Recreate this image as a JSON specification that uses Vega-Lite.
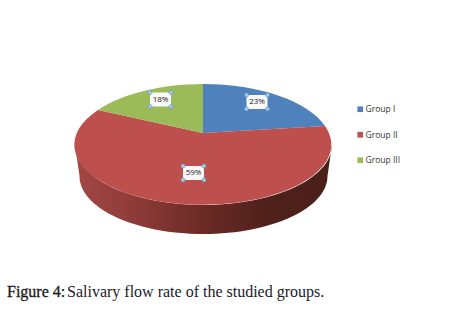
{"$schema":"https://vega.github.io/schema/vega-lite/v6.json","width":457,"height":329,"padding":0,"autosize":"none","background":"white","config":{"view":{"stroke":null}},
"datasets":{"groups":[{"group":"Group I","pct":23,"label":"23%"},{"group":"Group II","pct":59,"label":"59%"},{"group":"Group III","pct":18,"label":"18%"}]},
"data":{"name":"groups"},
"layer":[
{"mark":{"type":"point","filled":true,"opacity":1,"size":4,"shape":"square","x":203,"y":133},"encoding":{
"color":{"field":"group","type":"nominal","scale":{"domain":["Group I","Group II","Group III"],"range":["#4f81bd","#bd4f4c","#9bbb59"]},"legend":{"title":null,"orient":"none","legendX":356,"legendY":105,"symbolType":"square","symbolSize":32,"symbolOpacity":1,"rowPadding":16.5,"labelFont":"Open Sans","labelFontSize":8.5,"labelColor":"#333333","labelOffset":1}}}},
{"transform":[{"filter":"datum.group==='Group II'"}],"mark":{"type":"point","filled":true,"opacity":1,"size":4,"shape":"M-128,12A128.5,60 0 0 0 129,12L124.5,43A124,58 0 0 1 -123.5,43Z","x":203,"y":133,"fill":{"gradient":"linear","x1":0,"x2":1,"y1":0,"y2":0,"stops":[{"offset":0,"color":"#a34745"},{"offset":0.25,"color":"#8c3a37"},{"offset":0.5,"color":"#6b2a26"},{"offset":0.75,"color":"#50211b"},{"offset":1,"color":"#4a1f19"}]}},"encoding":{}},
{"transform":[{"filter":"datum.group==='Group I'"}],"mark":{"type":"point","filled":true,"opacity":1,"size":4,"x":203,"y":133,"shape":"M0,0L0,-49A128.5,60 0 0 1 122,-7Z"},"encoding":{"color":{"field":"group","type":"nominal","legend":null}}},
{"transform":[{"filter":"datum.group==='Group II'"}],"mark":{"type":"point","filled":true,"opacity":1,"size":4,"x":203,"y":133,"shape":"M0,0L122,-7A128.5,60 0 1 1 -105,-23Z"},"encoding":{"color":{"field":"group","type":"nominal","legend":null}}},
{"transform":[{"filter":"datum.group==='Group III'"}],"mark":{"type":"point","filled":true,"opacity":1,"size":4,"x":203,"y":133,"shape":"M0,0L-105,-23A128.5,60 0 0 1 0,-49Z"},"encoding":{"color":{"field":"group","type":"nominal","legend":null}}},
{"transform":[{"filter":"datum.group==='Group I'"}],"layer":[
{"mark":{"type":"point","filled":true,"opacity":1,"size":4,"x":257,"y":102,"fill":"#f8f8f8","shape":"M-10.5,-7H10.5V7H-10.5Z"}},
{"mark":{"type":"point","filled":true,"opacity":1,"size":4,"x":257,"y":102,"fill":"#a9cbe6","stroke":"#5f93bd","strokeWidth":0.7,"shape":"M-8.5,-7A2,2 0 1 1 -12.5,-7A2,2 0 1 1 -8.5,-7ZM12.5,-7A2,2 0 1 1 8.5,-7A2,2 0 1 1 12.5,-7ZM-8.5,7A2,2 0 1 1 -12.5,7A2,2 0 1 1 -8.5,7ZM12.5,7A2,2 0 1 1 8.5,7A2,2 0 1 1 12.5,7Z"}},
{"mark":{"type":"text","x":257,"y":102,"font":"Open Sans","fontSize":8,"fill":"#222222","align":"center","baseline":"middle"},"encoding":{"text":{"field":"label"}}}]},
{"transform":[{"filter":"datum.group==='Group II'"}],"layer":[
{"mark":{"type":"point","filled":true,"opacity":1,"size":4,"x":193.5,"y":173,"fill":"#f8f8f8","shape":"M-10.5,-7H10.5V7H-10.5Z"}},
{"mark":{"type":"point","filled":true,"opacity":1,"size":4,"x":193.5,"y":173,"fill":"#a9cbe6","stroke":"#5f93bd","strokeWidth":0.7,"shape":"M-8.5,-7A2,2 0 1 1 -12.5,-7A2,2 0 1 1 -8.5,-7ZM12.5,-7A2,2 0 1 1 8.5,-7A2,2 0 1 1 12.5,-7ZM-8.5,7A2,2 0 1 1 -12.5,7A2,2 0 1 1 -8.5,7ZM12.5,7A2,2 0 1 1 8.5,7A2,2 0 1 1 12.5,7Z"}},
{"mark":{"type":"text","x":193.5,"y":173,"font":"Open Sans","fontSize":8,"fill":"#222222","align":"center","baseline":"middle"},"encoding":{"text":{"field":"label"}}}]},
{"transform":[{"filter":"datum.group==='Group III'"}],"layer":[
{"mark":{"type":"point","filled":true,"opacity":1,"size":4,"x":160.5,"y":99.5,"fill":"#f8f8f8","shape":"M-10.5,-7H10.5V7H-10.5Z"}},
{"mark":{"type":"point","filled":true,"opacity":1,"size":4,"x":160.5,"y":99.5,"fill":"#a9cbe6","stroke":"#5f93bd","strokeWidth":0.7,"shape":"M-8.5,-7A2,2 0 1 1 -12.5,-7A2,2 0 1 1 -8.5,-7ZM12.5,-7A2,2 0 1 1 8.5,-7A2,2 0 1 1 12.5,-7ZM-8.5,7A2,2 0 1 1 -12.5,7A2,2 0 1 1 -8.5,7ZM12.5,7A2,2 0 1 1 8.5,7A2,2 0 1 1 12.5,7Z"}},
{"mark":{"type":"text","x":160.5,"y":99.5,"font":"Open Sans","fontSize":8,"fill":"#222222","align":"center","baseline":"middle"},"encoding":{"text":{"field":"label"}}}]},
{"data":{"values":[{"part":"Figure 4:"}]},"mark":{"type":"text","font":"Liberation Serif","fontSize":16,"stroke":"#1a1a1a","strokeWidth":0.3,"fill":"#1a1a1a","align":"left","baseline":"alphabetic","x":7,"y":297},"encoding":{"text":{"field":"part"}}},
{"data":{"values":[{"part":"Salivary flow rate of the studied groups."}]},"mark":{"type":"text","font":"Liberation Serif","fontSize":16,"fill":"#1a1a2a","align":"left","baseline":"alphabetic","x":67,"y":297},"encoding":{"text":{"field":"part"}}}
]}
